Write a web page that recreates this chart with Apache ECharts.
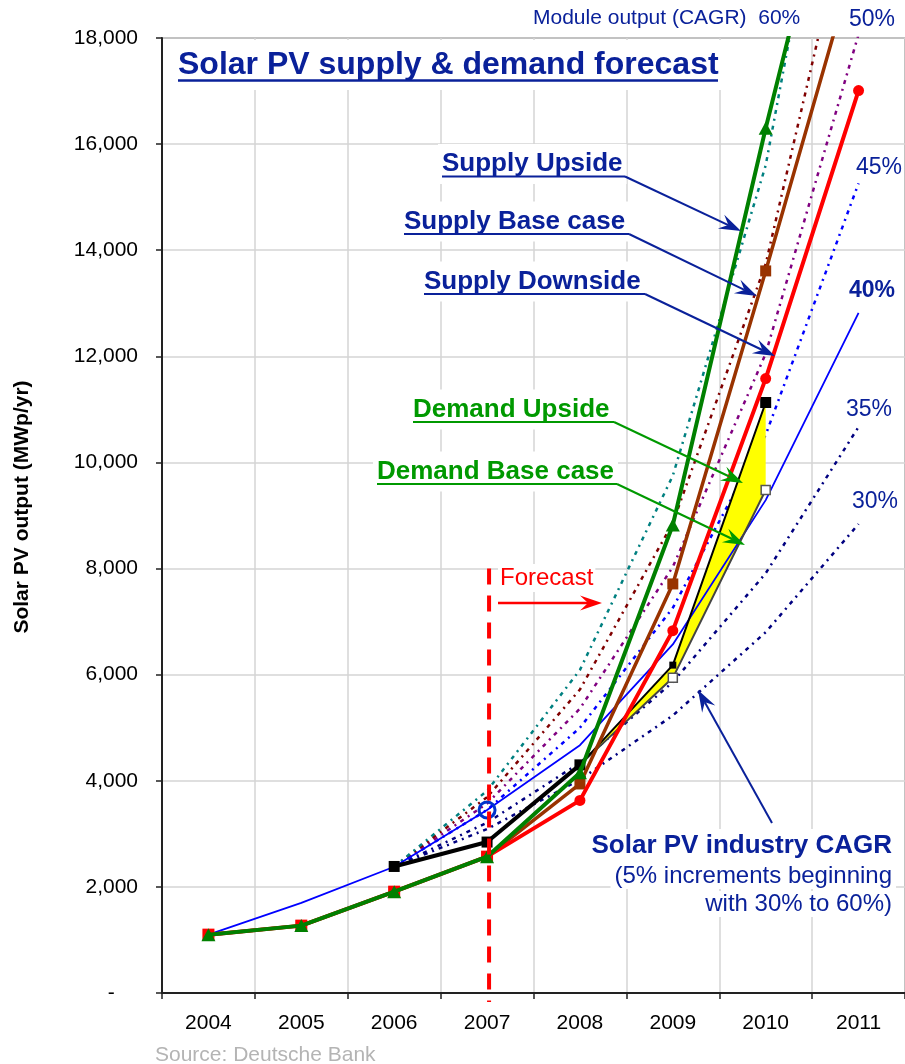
<!DOCTYPE html>
<html><head><meta charset="utf-8">
<script src="https://cdn.jsdelivr.net/npm/echarts@6/dist/echarts.min.js"></script>
<style>html,body{margin:0;padding:0;background:#fff}#c{width:905px;height:1064px}</style>
</head><body><div id="c"></div>
<script>
// ---------- data ----------
const years = ['2004','2005','2006','2007','2008','2009','2010','2011'];
const yTickLabels = ['-    ','2,000','4,000','6,000','8,000','10,000','12,000','14,000','16,000','18,000'];

const supplyUpside   = [1100,1270,1910,2570,4150,8820,16300,23300];
const supplyBase     = [1100,1270,1910,2570,3940,7710,13610,19700];
const supplyDownside = [1100,1270,1910,2570,3630,6830,11580,17010];

const demandActual = [null,null,2385,2845,4300,null,null,null];
const demandUpside = [null,null,null,null,4300,6180,11130,null];
const demandBase   = [null,null,null,null,4300,5940,9480,null];

const cagr30 = [null,null,2380,3090,4020,5230,6800,8840];
const cagr35 = [null,null,2380,3210,4340,5860,7910,10670];
const cagr40 = [1100,1700,2380,3450,4670,6570,9290,12820];
const cagr45 = [null,null,2380,3450,5000,7260,10520,15260];
const cagr50 = [null,null,2380,3570,5360,8030,12050,18070];
const cagr55 = [null,null,2380,3690,5720,8860,13740,21290];
const cagr60 = [null,null,2380,3810,6090,9750,15600,24960];

const forecastYear = '2007';
const forecastTop = 8000;

// ---------- chart ----------
const FONT = 'Liberation Sans, Arial, sans-serif';
const NAVY = '#0A219A';
const GREEN_T = '#009900';
const chart = echarts.init(document.getElementById('c'), null, {renderer:'canvas'});

function dotted(name, data, color){
  return {name, type:'line', data, z:2, showSymbol:false, symbol:'none',
    lineStyle:{color, width:2.5, type:[4,5,2,5]}, silent:true};
}
function withSymbols(values, fn){
  return values.map((v,i)=> v==null ? null : Object.assign({value:v}, fn(i)));
}

const bandDiff = demandUpside.map((v,i)=> (v==null||demandBase[i]==null) ? null : v - demandBase[i]);

chart.setOption({
  animation:false,
  grid:{left:162, top:38, width:746, height:955, show:true, borderColor:'#8c8c8c', borderWidth:2, backgroundColor:'transparent'},
  xAxis:{type:'category', data:years, boundaryGap:true,
    axisLine:{lineStyle:{color:'#222', width:2}},
    axisTick:{show:true, length:6, lineStyle:{color:'#222', width:1.5}},
    axisLabel:{color:'#000', fontSize:21, fontFamily:FONT, margin:20},
    splitLine:{show:true, lineStyle:{color:'#d4d4d4', width:1.5}}},
  yAxis:{type:'value', min:0, max:18000, interval:2000,
    axisLine:{show:true, lineStyle:{color:'#222', width:2}},
    axisTick:{show:true, length:6, lineStyle:{color:'#222', width:1.5}},
    axisLabel:{color:'#000', fontSize:21, fontFamily:FONT, margin:24,
      formatter:v=>yTickLabels[Math.round(v/2000)]},
    splitLine:{show:true, lineStyle:{color:'#d4d4d4', width:1.5}}},
  series:[
    dotted('30%', cagr30, '#000080'),
    dotted('35%', cagr35, '#000080'),
    dotted('45%', cagr45, '#0000FF'),
    dotted('50%', cagr50, '#800080'),
    dotted('55%', cagr55, '#800000'),
    dotted('60%', cagr60, '#008080'),
    {name:'40%', type:'line', z:3, data: withSymbols(cagr40, i=> years[i]===forecastYear
        ? {symbol:'circle', symbolSize:16, itemStyle:{color:'rgba(0,0,0,0)', borderColor:'#0033CC', borderWidth:3}}
        : {symbol:'none'}),
      lineStyle:{color:'#0000FF', width:1.8}},
    {name:'Demand Base case', type:'line', stack:'band', z:4, data: withSymbols(demandBase, i=> i===5||i===6
        ? {symbol:'rect', symbolSize:9, itemStyle:{color:'#fff', borderColor:'#555', borderWidth:1.5}}
        : {symbol:'none'}),
      lineStyle:{color:'#444', width:2}},
    {name:'band', type:'line', stack:'band', z:3, data:bandDiff, symbol:'none',
      lineStyle:{width:0, opacity:0}, areaStyle:{color:'#FFFF00', opacity:1}},
    {name:'Demand Upside', type:'line', z:5, data: withSymbols(demandUpside, i=> i===4 ? {symbol:'none'}
        : {symbol:'rect', symbolSize: i===5 ? 7 : 11, itemStyle:{color:'#000'}}),
      lineStyle:{color:'#000', width:2}},
    {name:'Demand actual', type:'line', z:5, data:demandActual, symbol:'rect', symbolSize:11,
      itemStyle:{color:'#000'}, lineStyle:{color:'#000', width:4}},
    {name:'Supply Base case', type:'line', z:6, data:supplyBase, symbol:'rect', symbolSize:11,
      itemStyle:{color:'#993300'}, lineStyle:{color:'#993300', width:3.5}},
    {name:'Supply Downside', type:'line', z:7, data: withSymbols(supplyDownside, i=> i<4
        ? {symbol:'rect', symbolSize:12} : {symbol:'circle', symbolSize:11}),
      itemStyle:{color:'#FF0000'}, lineStyle:{color:'#FF0000', width:4}},
    {name:'Supply Upside', type:'line', z:8, data:supplyUpside, symbol:'triangle', symbolSize:[14,13],
      itemStyle:{color:'#008000'}, lineStyle:{color:'#008000', width:4}}
  ]
});

// ---------- annotations ----------
function arrow(x1,y1,x2,y2,color,w){
  const dx=x2-x1, dy=y2-y1, L=Math.hypot(dx,dy), ux=dx/L, uy=dy/L, px=-uy, py=ux;
  const hl=22, hw=7.5, notch=14;
  const bx=x2-ux*hl, by=y2-uy*hl, nx=x2-ux*notch, ny=y2-uy*notch;
  return [
    {type:'line', z:20, shape:{x1,y1,x2:nx,y2:ny}, style:{stroke:color, lineWidth:w}},
    {type:'polygon', z:20, shape:{points:[[x2,y2],[bx+px*hw,by+py*hw],[nx,ny],[bx-px*hw,by-py*hw]]}, style:{fill:color}}
  ];
}
// pad = [vertical, horizontal]; text anchor stays at the glyph position
function txt(text,x,y,size,color,opt){
  opt = opt||{};
  const align = opt.align||'left';
  const pv = opt.bg ? (opt.pad ? opt.pad[0] : 3) : 0;
  const ph = opt.bg ? (opt.pad ? opt.pad[1] : 3) : 0;
  const ax = align==='left' ? x - ph : (align==='right' ? x + ph : x);
  return {type:'text', x:ax, y, z: opt.z||1, rotation: opt.rotation||0,
    style:{text, fill:color, font:(opt.bold?'bold ':'')+size+'px '+FONT,
      align, verticalAlign:'middle',
      backgroundColor: opt.bg ? '#fff' : null, padding: opt.bg ? [pv,ph,pv,ph] : 0}};
}
function uline(x1,x2,y,color,w){
  return {type:'line', z:2, shape:{x1,y1:y,x2,y2:y}, style:{stroke:color, lineWidth:w||2}};
}

const p = chart.convertToPixel({gridIndex:0}, [forecastYear, forecastTop]);
const p0 = chart.convertToPixel({gridIndex:0}, [forecastYear, 0]);

const g = [];
// title
g.push(txt('Solar PV supply & demand forecast', 178, 65, 32, NAVY, {bold:true, bg:true, pad:[9,8]}));
g.push(uline(178, 718, 80.5, NAVY, 2.5));
// supply / demand labels
const labs = [
  ['Supply Upside', 442, 173, 625, NAVY, [741,231]],
  ['Supply Base case', 404, 230.5, 629, NAVY, [757,296]],
  ['Supply Downside', 424, 290.5, 645, NAVY, [775,356]],
  ['Demand Upside', 413, 418.5, 614, GREEN_T, [743,483]],
  ['Demand Base case', 377, 480.5, 617, GREEN_T, [745,545]]
];
labs.forEach(l=>{
  g.push(txt(l[0], l[1], l[2]-9, 26, l[4], {bold:true, bg:true, pad:[7,4]}));
  g.push(uline(l[1], l[3], l[2]+3.5, l[4], 2));
  g.push(...arrow(l[3], l[2]+3.5, l[5][0], l[5][1], l[4], 2));
});
// forecast
g.push({type:'line', z:9, shape:{x1:p[0]+2, y1:p[1], x2:p0[0]+2, y2:p0[1]+9},
  style:{stroke:'#FF0000', lineWidth:4, lineDash:[16,11]}});
g.push(txt('Forecast', 500, 578, 24, '#FF0000', {bg:true, pad:[2,2]}));
g.push(...arrow(498, 603, 602, 603, '#FF0000', 2.5));
// CAGR labels
g.push(txt('Module output (CAGR)  60%', 533, 18, 21, NAVY));
g.push(txt('50%', 849, 20, 23, NAVY));
g.push(txt('45%', 856, 168, 23, NAVY, {bg:true, pad:[1,1]}));
g.push(txt('40%', 849, 291, 23, NAVY, {bold:true, bg:true, pad:[1,1]}));
g.push(txt('35%', 846, 410, 23, NAVY, {bg:true, pad:[1,1]}));
g.push(txt('30%', 852, 502, 23, NAVY, {bg:true, pad:[1,1]}));
// industry CAGR note
g.push(txt('Solar PV industry CAGR', 892, 846, 26, NAVY, {bold:true, align:'right', bg:true, pad:[4,4]}));
g.push(txt('(5% increments beginning', 892, 876, 24, NAVY, {align:'right', bg:true, pad:[1,4]}));
g.push(txt('with 30% to 60%)', 892, 904, 24, NAVY, {align:'right', bg:true, pad:[1,4]}));
g.push(...arrow(772, 823, 698, 690, NAVY, 2));
// axis title & source
g.push(txt('Solar PV output (MWp/yr)', 22, 507, 21, '#000', {bold:true, align:'center', rotation:Math.PI/2}));
g.push(txt('Source: Deutsche Bank', 155, 1055, 21, '#b4b4b4'));

chart.setOption({graphic:{elements:g}});
</script>
</body></html>
